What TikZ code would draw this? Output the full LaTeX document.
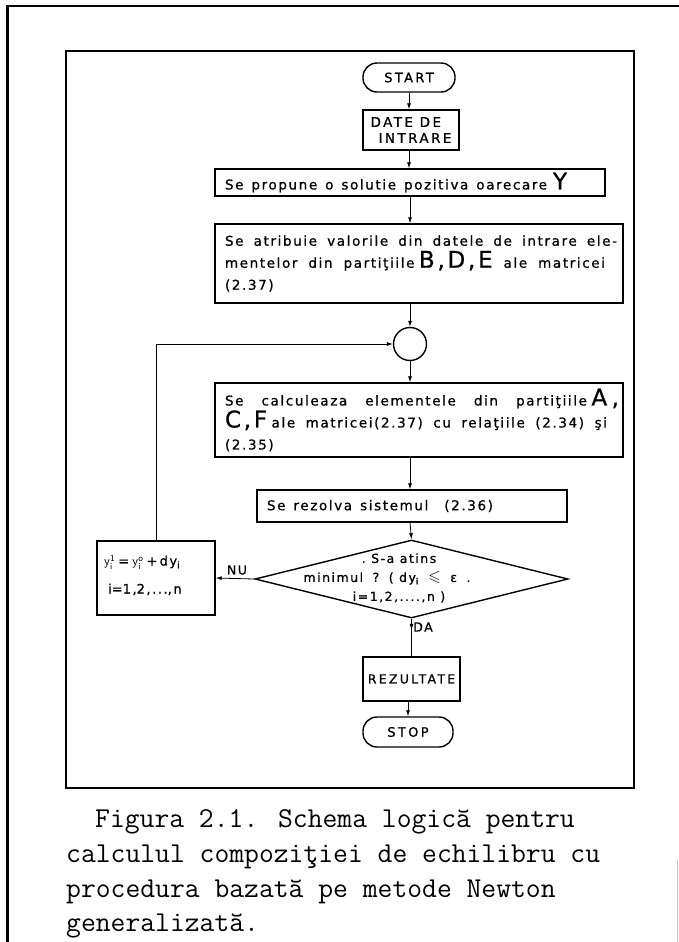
\documentclass[tikz,border=0pt]{standalone}
\usepackage{fontspec}
\usepackage{amssymb}
\newfontfamily\boxfont{DejaVu Sans}[LetterSpace=12,FakeBold=0.8]
\newfontfamily\capsfont{DejaVu Sans}[LetterSpace=18,FakeBold=0.8]
\usetikzlibrary{arrows.meta,shapes.geometric,decorations.markings}
% a line of box text spread to a given width (words split by \hfill)
\newcommand\jl[2]{\leavevmode\hbox to #1{#2}}
% large partition letters
\newcommand\BL[1]{{\fontsize{23}{22}\selectfont #1}}
\tikzset{
  frame/.style={line width=1.6pt},
  stepbox/.style={draw, line width=1.4pt, inner ysep=0pt, align=left,
    font=\boxfont\fontsize{13.5}{22}\selectfont},
  pill/.style={draw, line width=1.4pt, rounded corners=14pt, inner sep=0pt,
    font=\capsfont\fontsize{13}{16}\selectfont},
  flow/.style={line width=0.8pt, -{Latex[length=6pt,width=4pt]}},
  lbl/.style={font=\boxfont\fontsize{12.5}{14}\selectfont, inner sep=0pt},
  captext/.style={font=\ttfamily\fontsize{28.8}{35}\selectfont, anchor=base west, inner sep=0pt}
}
\begin{document}
\begin{tikzpicture}[x=1pt,y=-1pt]
\useasboundingbox (0,0) rectangle (679,942);
% page edges
\draw[line width=3pt] (7,942) -- (7,5);
\draw[line width=2pt] (6,6) -- (679,6);
\draw[gray!45, line width=0.7pt] (677,860) -- (677,942);
% frame round the flowchart
\draw[frame] (66,51) rectangle (634,788);

% terminals and steps
\node[pill, minimum width=92pt, minimum height=29pt] (start) at (409,77.5) {START};
\node[draw, line width=1.4pt, minimum width=96pt, minimum height=40pt, inner sep=0pt,
  align=left, font=\capsfont\fontsize{13.5}{16}\selectfont] (date) at (411,130)
  {DATE DE\\\hspace*{8pt}INTRARE};
\node[stepbox, minimum width=390pt, minimum height=27pt, text width=370pt, inner xsep=10pt]
  (prop) at (410,182.5)
  {\jl{322pt}{Se\hfill propune\hfill o\hfill solutie\hfill pozitiva\hfill oarecare}\hspace{6pt}\BL{Y}};
\node[stepbox, minimum width=408pt, minimum height=79pt, text width=388pt, inner xsep=10pt]
  (atr) at (419,263.5)
  {\jl{392pt}{Se\hfill atribuie\hfill valorile\hfill din\hfill datele\hfill de\hfill intrare\hfill ele-}\\
   \jl{380pt}{mentelor\hfill din\hfill partiţiile \BL{B,D,E}\hfill ale\hfill matricei}\\
   (2.37)};
\node[draw, circle, line width=1.4pt, minimum size=33pt, inner sep=0pt] (circ) at (410,344) {};
\node[stepbox, minimum width=408pt, minimum height=74pt, text width=388pt, inner xsep=10pt]
  (calc) at (419,420)
  {\jl{394pt}{Se\hfill calculeaza\hfill elementele\hfill din\hfill partiţiile \BL{A ,}}\\
   \jl{382pt}{\BL{C,F} ale\hfill matricei(2.37)\hfill cu\hfill relaţiile\hfill (2.34)\hfill şi}\\
   (2.35)};
\node[stepbox, minimum width=310pt, minimum height=32pt, text width=290pt, inner xsep=10pt]
  (rez) at (412,506)
  {\jl{226pt}{Se\hfill rezolva\hfill sistemul\hfill\hfill (2.36)}};

% decision
\node[draw, diamond, line width=1.4pt, minimum width=313pt, minimum height=78pt,
  inner sep=0pt] (dec) at (411.5,579) {};
\node[align=center, inner sep=0pt, font=\boxfont\fontsize{12.5}{19}\selectfont]
  (dectext) at (387,578)
  {\hspace*{24pt}.\ S-a atins\\
   \jl{167pt}{minimul\hfill ?\hfill ( dy\textsubscript{i}\hfill {\fontsize{16}{19}\selectfont$\leqslant$}\hfill ε\hfill .}\\
   \hspace*{24pt}i=1,2,....,n )};

% correction step
\node[draw, line width=1.4pt, minimum width=118pt, minimum height=74pt, inner sep=0pt]
  (lbox) at (156,578) {};
\node[lbl, anchor=west, align=left, font=\boxfont\fontsize{13}{28}\selectfont]
  (ltext) at (104,575)
  {\jl{76pt}{$\mathsf{y^1_i}$\hfill =\hfill $\mathsf{y^o_i}$\hfill +\,dy\textsubscript{i}}\\
   \hspace*{4pt}\jl{66pt}{i\hfill =\hfill 1,\hfill 2,...\hfill ,n}};

\node[draw, line width=1.4pt, minimum width=97pt, minimum height=44pt, inner sep=0pt,
  font=\capsfont\fontsize{12.5}{14}\selectfont] (res) at (411.5,679) {REZULTATE};
\node[pill, minimum width=90pt, minimum height=30pt] (stop) at (408,732) {STOP};

% connectors
\draw[flow] (start.south) -- (start.south |- date.north);
\draw[flow] (date.south -| start.south) -- (start.south |- prop.north);
\draw[flow] (prop.south) -- (prop.south |- atr.north);
\draw[flow] (prop.south |- atr.south) -- (circ.north);
\draw[flow] (circ.south) -- (circ.south |- calc.north);
\draw[flow] (circ.south |- calc.south) -- (circ.south |- rez.north);
\draw[flow] (circ.south |- rez.south) -- (dec.north);
\draw[line width=0.8pt, postaction={decorate}, decoration={markings,
  mark=at position 0.3 with {\arrow{Latex[length=6pt,width=4pt]}}}]
  (dec.south) -- (dec.south |- res.north);
\draw[flow] (res.south) -- (res.south -| stop.north) -- (stop.north);
\draw[flow] (dec.west) -- (lbox.east);
\draw[flow] (lbox.north) -- (lbox.north |- circ.west) -- (circ.west);

% branch labels
\node[lbl] (nu) at (237,570) {NU};
\node[lbl] (da) at (423,627) {DA};

% caption
\node[captext] (cap1) at (95,827) {Figura 2.1. Schema logică pentru};
\node[captext] (cap2) at (66,862) {calculul compoziţiei de echilibru cu};
\node[captext] (cap3) at (66,897) {procedura bazată pe metode Newton};
\node[captext] (cap4) at (66,931) {generalizată.};
\end{tikzpicture}
\end{document}
